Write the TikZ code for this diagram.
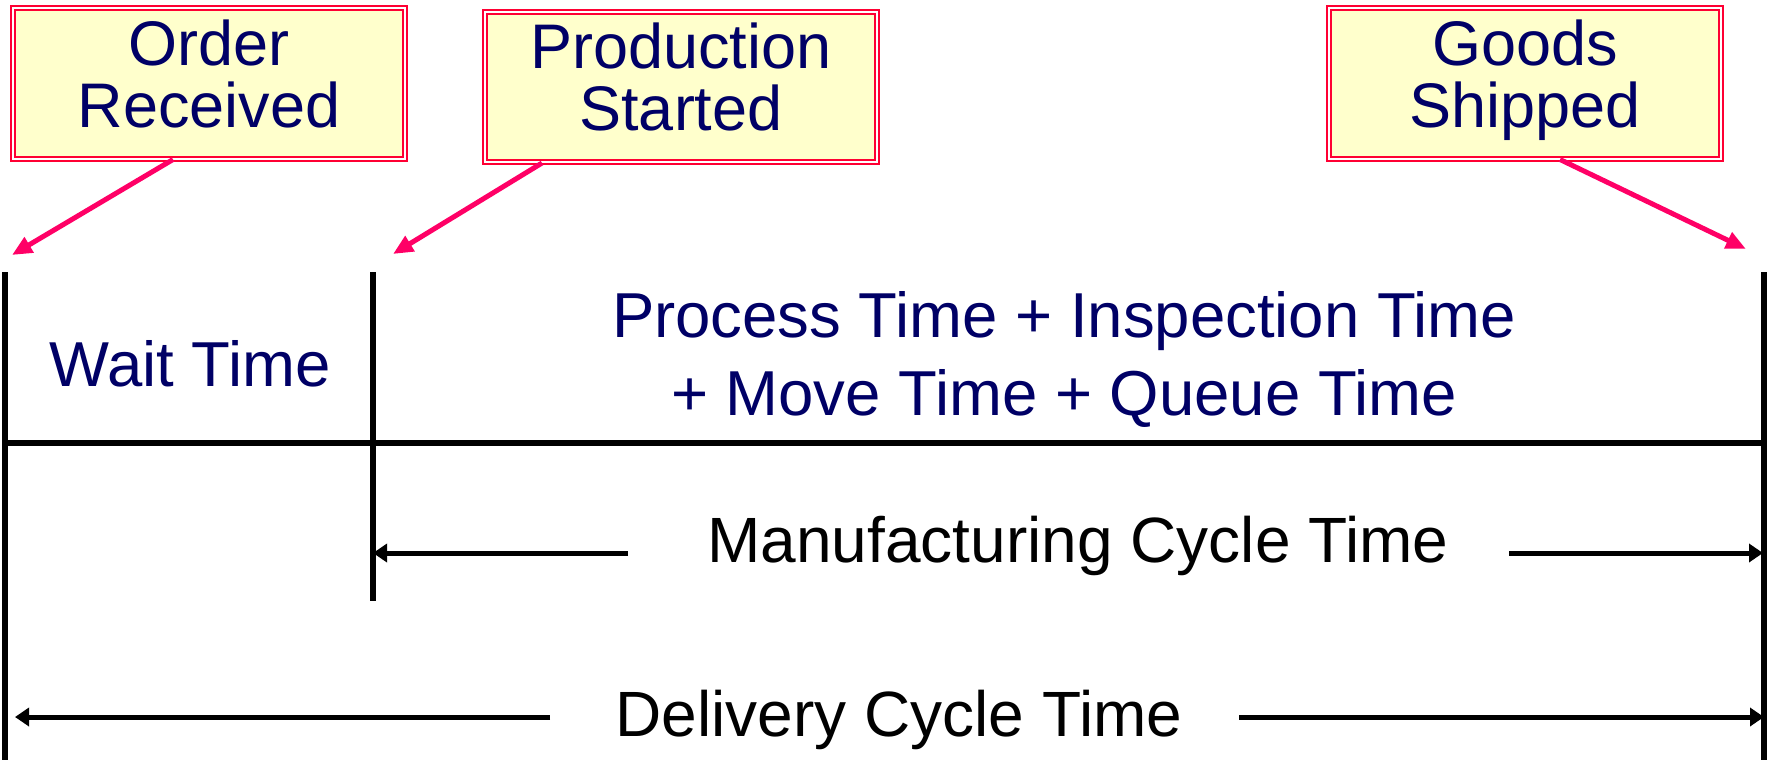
\documentclass[tikz,border=0pt]{standalone}
\usepackage{fontspec}
\setmainfont{Liberation Sans}
\usepackage{tikz}
\usetikzlibrary{positioning,arrows.meta}
\definecolor{navyc}{HTML}{000066}
\definecolor{notefill}{HTML}{FFFFCC}
\definecolor{noteedge}{HTML}{FF0033}
\definecolor{pointc}{HTML}{FF0066}
\tikzset{
  eventbox/.style={draw=noteedge,double=white,double distance=2pt,line width=2pt,
    fill=notefill,minimum width=392pt,minimum height=150pt,inner sep=0pt,
    text height=102pt,text depth=15pt,
    align=center,text=navyc,font=\fontsize{63}{62}\selectfont},
  pointer/.style={pointc,line width=5pt,-{Triangle[length=20pt,width=17pt]}},
  spanarrow/.style={line width=5pt,-{Triangle[length=14pt,width=18pt]}},
  timeline/.style={line width=5.5pt},
  navytext/.style={text=navyc,inner sep=0pt,align=center,font=\fontsize{63.5}{78}\selectfont},
  blacktext/.style={inner sep=0pt,font=\fontsize{64}{64}\selectfont}
}

\begin{document}
\begin{tikzpicture}[x=1pt,y=-1pt]
  \useasboundingbox (0,0) rectangle (1771,760);

  % event boxes
  \node[eventbox] (order) at (209,83.5) {Order\\Received};
  \node[eventbox] (prod)  at (681,87)   {Production\\Started};
  \node[eventbox] (goods) at (1525,83.5) {Goods\\Shipped};

  % time line
  \coordinate (oTop) at (5,272);    \coordinate (oBot) at (5,760);
  \coordinate (pTop) at (373,272);  \coordinate (pBot) at (373,601);
  \coordinate (gTop) at (1764,272); \coordinate (gBot) at (1764,760);
  \draw[timeline] (oTop) -- (oBot);
  \draw[timeline] (pTop) -- (pBot);
  \draw[timeline] (gTop) -- (gBot);
  \draw[timeline] (5,443) -- (1764,443);

  % pointers
  \coordinate (oTip) at (12,255);
  \coordinate (pTip) at (393,254);
  \coordinate (gTip) at (1746,249);
  \draw[pointer] ([xshift=-36pt]order.south) -- (oTip);
  \draw[pointer] ([xshift=-139pt]prod.south) -- (pTip);
  \draw[pointer] ([xshift=35pt]goods.south) -- (gTip);

  % spans
  \node[navytext,anchor=base] (wait) at (190,386) {Wait Time};
  \node[navytext,anchor=base] (flow) at (1064,415) {Process Time + Inspection Time\\+ Move Time + Queue Time};

  \node[blacktext,anchor=base] (mfg) at (1078,562) {Manufacturing Cycle Time};
  \coordinate (mfgL) at (628,553);  \coordinate (mfgLend) at (373,553);
  \coordinate (mfgR) at (1509,553); \coordinate (mfgRend) at (1763,553);
  \draw[spanarrow] (mfgL) -- (mfgLend);
  \draw[spanarrow] (mfgR) -- (mfgRend);

  \node[blacktext,anchor=base] (deliv) at (899,736) {Delivery Cycle Time};
  \coordinate (dL) at (550,717);  \coordinate (dLend) at (15,717);
  \coordinate (dR) at (1239,717); \coordinate (dRend) at (1764,717);
  \draw[spanarrow] (dL) -- (dLend);
  \draw[spanarrow] (dR) -- (dRend);
\end{tikzpicture}
\end{document}
